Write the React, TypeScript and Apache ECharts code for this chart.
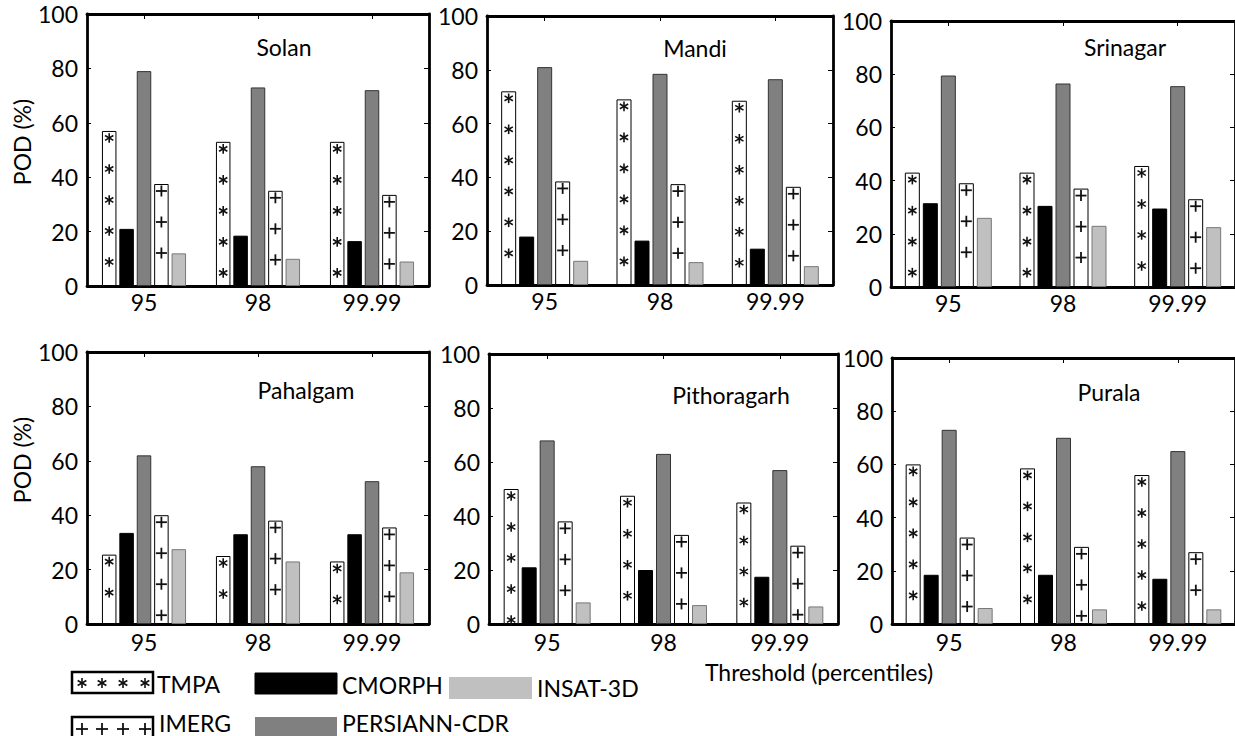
import React, { useEffect, useRef } from "react";
import * as echarts from "echarts";

const categories = ["95", "98", "99.99"];
const stations = ["Solan", "Mandi", "Srinagar", "Pahalgam", "Pithoragarh", "Purala"];

const tmpa = [
  [57, 53, 53],
  [72, 69, 68.5],
  [43, 43, 45.5],
  [25.5, 25, 23],
  [50, 47.5, 45],
  [60, 58.5, 56],
];
const cmorph = [
  [21, 18.5, 16.5],
  [18, 16.5, 13.5],
  [31.5, 30.5, 29.5],
  [33.5, 33, 33],
  [21, 20, 17.5],
  [18.5, 18.5, 17],
];
const persiann = [
  [79, 73, 72],
  [81, 78.5, 76.5],
  [79.5, 76.5, 75.5],
  [62, 58, 52.5],
  [68, 63, 57],
  [73, 70, 65],
];
const imerg = [
  [37.5, 35, 33.5],
  [38.5, 37.5, 36.5],
  [39, 37, 33],
  [40, 38, 35.5],
  [38, 33, 29],
  [32.5, 29, 27],
];
const insat = [
  [12, 10, 9],
  [9, 8.5, 7],
  [26, 23, 22.5],
  [27.5, 23, 19],
  [8, 7, 6.5],
  [6, 5.5, 5.5],
];

const yTicks = [0, 20, 40, 60, 80, 100];
const yLabel = "POD (%)";
const xLabel = "Threshold (percentiles)";

// layout (pixels)
const panels = [
  { left: 87, top: 14, width: 342, height: 272, bw: 14.5, tx: 284, ty: 47, lm: 4 },
  { left: 487, top: 16, width: 346, height: 269, bw: 15, tx: 695, ty: 48, lm: 4 },
  { left: 891, top: 21, width: 351, height: 266, bw: 15, tx: 1125, ty: 47, lm: 4 },
  { left: 87, top: 352, width: 342, height: 272, bw: 14.5, tx: 306, ty: 390, lm: 6 },
  { left: 489, top: 354, width: 349, height: 270, bw: 15, tx: 731, ty: 395, lm: 6 },
  { left: 892, top: 358, width: 348, height: 266, bw: 15, tx: 1109, ty: 392, lm: 6 },
];

const FONT = 'Lato, "Open Sans", sans-serif';
const GAP_RATIO = 0.2;

function asteriskLines(cx: number, cy: number, r: number, lw: number) {
  const out: any[] = [];
  [90, 30, 150].forEach((deg) => {
    const a = (deg * Math.PI) / 180;
    const dx = Math.cos(a) * r;
    const dy = Math.sin(a) * r;
    out.push({
      type: "line",
      shape: { x1: cx - dx, y1: cy - dy, x2: cx + dx, y2: cy + dy },
      style: { stroke: "#111", lineWidth: lw },
    });
  });
  return out;
}
function plusLines(cx: number, cy: number, r: number, lw: number) {
  return [
    { type: "line", shape: { x1: cx - r, y1: cy, x2: cx + r, y2: cy }, style: { stroke: "#111", lineWidth: lw } },
    { type: "line", shape: { x1: cx, y1: cy - r, x2: cx, y2: cy + r }, style: { stroke: "#111", lineWidth: lw } },
  ];
}

function makeSymbolRenderer(slot: number, bw: number, kind: "ast" | "plus") {
  return (params: any, api: any) => {
    const cat = api.value(0);
    const v = api.value(1);
    const base = api.coord([cat, 0]);
    const top = api.coord([cat, v]);
    const step = bw * (1 + GAP_RATIO);
    const cx = base[0] + slot * step;
    const children: any[] = [];
    for (let y = top[1] + 7; y <= base[1] - 4; y += 31) {
      if (kind === "ast") children.push(...asteriskLines(cx, y, 4.8, 1.6));
      else children.push(...plusLines(cx, y, 5.5, 1.8));
    }
    return { type: "group", children };
  };
}

export default function App() {
  const ref = useRef<HTMLDivElement>(null);
  useEffect(() => {
    if (!ref.current) return;
    const chart = echarts.init(ref.current, undefined, { renderer: "svg" });
    const grid: any[] = [];
    const xAxis: any[] = [];
    const yAxis: any[] = [];
    const series: any[] = [];
    const axisLine = { show: true, onZero: false, lineStyle: { color: "#000", width: 2.8 } };

    panels.forEach((p, i) => {
      grid.push({ left: p.left, top: p.top, width: p.width, height: p.height, containLabel: false });
      xAxis.push({
        type: "category",
        gridIndex: i,
        data: categories,
        position: "bottom",
        axisLine,
        axisTick: { show: false },
        axisLabel: { fontSize: 23, color: "#000", fontFamily: FONT, margin: p.lm },
        splitLine: { show: false },
      });
      xAxis.push({
        type: "category",
        gridIndex: i,
        data: categories,
        position: "top",
        axisLine,
        axisTick: { show: true, inside: true, alignWithLabel: true, length: 5, lineStyle: { color: "#000", width: 1 } },
        axisLabel: { show: false },
        splitLine: { show: false },
      });
      yAxis.push({
        type: "value",
        gridIndex: i,
        min: yTicks[0],
        max: yTicks[yTicks.length - 1],
        interval: yTicks[1] - yTicks[0],
        position: "left",
        axisLine,
        axisTick: { show: true, inside: true, length: 4, lineStyle: { color: "#000", width: 1 } },
        axisLabel: { fontSize: 23, color: "#000", fontFamily: FONT, margin: 9 },
        splitLine: { show: false },
      });
      yAxis.push({
        type: "value",
        gridIndex: i,
        min: yTicks[0],
        max: yTicks[yTicks.length - 1],
        interval: yTicks[1] - yTicks[0],
        position: "right",
        axisLine,
        axisTick: { show: true, inside: true, length: 5, lineStyle: { color: "#000", width: 1 } },
        axisLabel: { show: false },
        splitLine: { show: false },
      });
      const xi = i * 2;
      const yi = i * 2;
      const common = { type: "bar", xAxisIndex: xi, yAxisIndex: yi, barWidth: p.bw, barGap: "20%" };
      series.push({ ...common, name: "TMPA", data: tmpa[i], itemStyle: { color: "#fff", borderColor: "#000", borderWidth: 1 } });
      series.push({ ...common, name: "CMORPH", data: cmorph[i], itemStyle: { color: "#000", borderColor: "#000", borderWidth: 1 } });
      series.push({ ...common, name: "PERSIANN-CDR", data: persiann[i], itemStyle: { color: "#808080", borderColor: "#333", borderWidth: 1 } });
      series.push({ ...common, name: "IMERG", data: imerg[i], itemStyle: { color: "#fff", borderColor: "#000", borderWidth: 1 } });
      series.push({ ...common, name: "INSAT-3D", data: insat[i], itemStyle: { color: "#c0c0c0", borderColor: "#777", borderWidth: 1 } });
      series.push({
        type: "custom",
        xAxisIndex: xi,
        yAxisIndex: yi,
        z: 5,
        silent: true,
        data: tmpa[i].map((v, k) => [k, v]),
        renderItem: makeSymbolRenderer(-2, p.bw, "ast"),
      });
      series.push({
        type: "custom",
        xAxisIndex: xi,
        yAxisIndex: yi,
        z: 5,
        silent: true,
        data: imerg[i].map((v, k) => [k, v]),
        renderItem: makeSymbolRenderer(1, p.bw, "plus"),
      });
    });

    const textStyle = (t: string, x: number, y: number, align = "left") => ({
      type: "text",
      x,
      y,
      style: { text: t, fontSize: 23, fontFamily: FONT, fill: "#000", align, verticalAlign: "middle" },
    });

    const graphic: any[] = [];
    panels.forEach((p, i) => graphic.push(textStyle(stations[i], p.tx, p.ty, "center")));
    graphic.push({ ...textStyle(yLabel, 0, 0, "center"), x: 22, y: 142, rotation: Math.PI / 2 });
    graphic.push({ ...textStyle(yLabel, 0, 0, "center"), x: 22, y: 460, rotation: Math.PI / 2 });
    graphic.push(textStyle(xLabel, 819, 672, "center"));

    // legend
    const legendBox = (x: number, y: number, w: number, h: number, fill: string, stroke: string, lw: number) => ({
      type: "rect",
      shape: { x, y, width: w, height: h },
      style: { fill, stroke, lineWidth: lw },
    });
    graphic.push(legendBox(72, 672, 81, 21, "#fff", "#000", 2.5));
    [82, 102, 123, 145].forEach((cx) => graphic.push(...asteriskLines(cx, 683, 5, 1.6)));
    graphic.push(textStyle("TMPA", 157, 684));
    graphic.push(legendBox(255, 673, 82, 21, "#000", "#000", 1));
    graphic.push(textStyle("CMORPH", 342, 685));
    graphic.push(legendBox(449, 677, 83, 22, "#c0c0c0", "#c0c0c0", 0));
    graphic.push(textStyle("INSAT-3D", 537, 688));
    graphic.push(legendBox(72, 717, 81, 21, "#fff", "#000", 2.5));
    [82, 102, 123, 145].forEach((cx) => graphic.push(...plusLines(cx, 729, 6, 1.8)));
    graphic.push(textStyle("IMERG", 159, 723));
    graphic.push(legendBox(255, 717, 82, 21, "#808080", "#808080", 0));
    graphic.push(textStyle("PERSIANN-CDR", 342, 723));

    chart.setOption({
      animation: false,
      backgroundColor: "#fff",
      grid,
      xAxis,
      yAxis,
      series,
      graphic,
    });
    return () => chart.dispose();
  }, []);
  return (
    <div
      ref={ref}
      style={{ position: "absolute", left: 0, top: 0, width: 1235, height: 736, background: "#fff" }}
    />
  );
}
